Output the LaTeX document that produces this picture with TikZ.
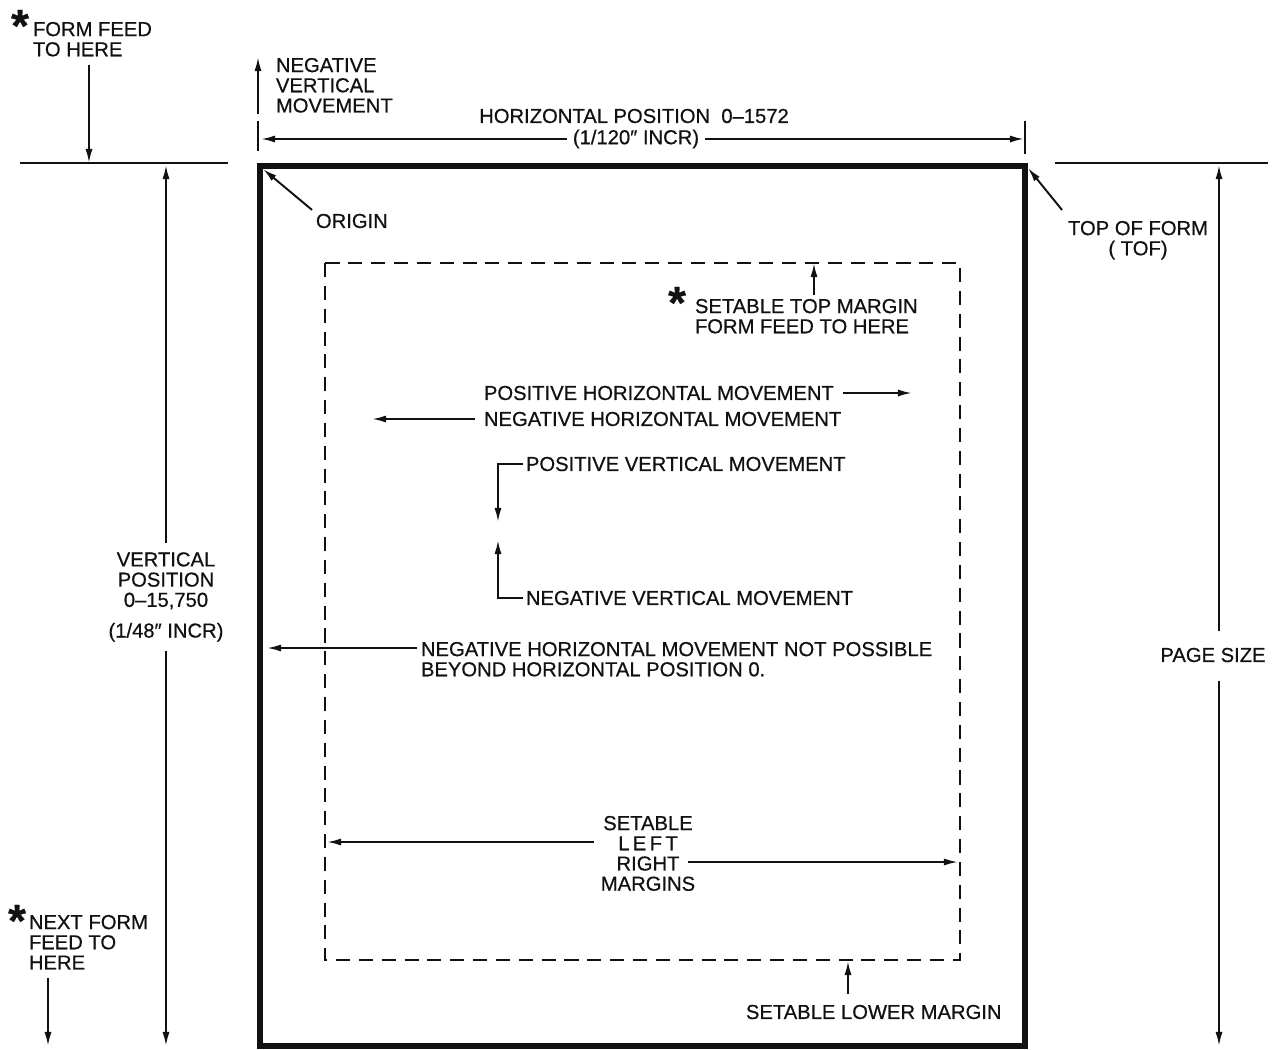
\documentclass[tikz,border=0pt]{standalone}
\usepackage{fontspec}
\setmainfont{Liberation Sans}[FakeBold=0.6]
\usetikzlibrary{arrows.meta}
\definecolor{ink}{HTML}{111111}

\begin{document}
\begin{tikzpicture}[x=0.02cm, y=-0.02cm, line width=1.1pt, color=ink,
  every node/.style={font=\fontsize{11.5}{11.5}\selectfont, inner sep=0pt, align=left},
  arr/.style={-{Latex[length=8pt,width=4pt]}},
  page edge/.style={line width=3pt, line join=miter},
  margin box/.style={line width=1.1pt, dash pattern=on 8pt off 5pt},
  starmark/.style={font=\fontsize{26}{26}\selectfont\bfseries, anchor=north}]
  \useasboundingbox (0,0) rectangle (1275,1049);

  % page and setable margins
  \coordinate (origin) at (260,166);
  \coordinate (tof) at (1025,166);
  \coordinate (pageEnd) at (1025,1046);
  \draw[page edge] (origin) rectangle (pageEnd);
  \draw[margin box] (325,263) rectangle (960,960);
  \draw (20,163) -- (228,163);
  \draw (1055,163) -- (1268,163);

  % form feed to here
  \coordinate (ffHere) at (89,163);
  \node[starmark] (ffStar) at (20,9) {*};
  \node[anchor=north west] (ffText) at (32,21) {FORM FEED\\TO HERE};
  \draw[arr] (ffText.south -| ffHere) ++(0,8) -- (ffHere);

  % vertical position
  \coordinate (vTop) at (166,165);
  \coordinate (vBot) at (166,1046);
  \node[align=center] (vpos) at (166,597) {VERTICAL\\POSITION\\0–15,750\\[6pt](1/48″ INCR)};
  \draw[arr] (vpos.north) ++(0,-8) -- (vTop);
  \draw[arr] (vpos.south) ++(0,8) -- (vBot);

  % negative vertical movement at origin
  \coordinate (nvmTip) at (258,57);
  \node[anchor=north west] (nvmTop) at (275,57) {NEGATIVE\\VERTICAL\\MOVEMENT};
  \draw[arr] (nvmTip |- nvmTop.south) -- (nvmTip);

  % horizontal position
  \coordinate (hLeft) at (261,139);
  \coordinate (hRight) at (1024,139);
  \draw (258,121) -- (258,151);
  \draw (1025,121) -- (1025,154);
  \node (hpos) at (634,116) {HORIZONTAL POSITION\ \ 0–1572};
  \node (hincr) at (636,139) {(1/120″ INCR)};
  \draw[arr] (hincr.west) ++(-5,0) -- (hLeft);
  \draw[arr] (hincr.east) ++(5,0) -- (hRight);

  % origin and top of form
  \node[anchor=west] (originLbl) at (315,221) {ORIGIN};
  \draw[arr] (originLbl.north west) ++(-3,-3) -- ([shift={(3,3)}]origin);
  \node[anchor=north, align=center] (tofLbl) at (1138,220) {TOP OF FORM\\( TOF)};
  \draw[arr] (tofLbl.north west) ++(-5,-10) -- ([shift={(3,2)}]tof);

  % page size
  \coordinate (psTop) at (1219,165);
  \coordinate (psBot) at (1219,1046);
  \node (psize) at (1213,655) {PAGE SIZE};
  \draw[arr] (psize.north -| psTop) ++(0,-16) -- (psTop);
  \draw[arr] (psize.south -| psTop) ++(0,18) -- (psBot);

  % setable top margin
  \coordinate (topMargin) at (814,263);
  \node[starmark] (tmStar) at (677,286) {*};
  \node[anchor=north west] (tmLbl) at (694,298) {SETABLE TOP MARGIN\\FORM FEED TO HERE};
  \draw[arr] (tmLbl.north -| topMargin) ++(0,-3) -- (topMargin);

  % horizontal movement
  \coordinate (phmTip) at (912,393);
  \coordinate (nhmTip) at (372,419);
  \node[anchor=west] (phm) at (483,393) {POSITIVE HORIZONTAL MOVEMENT};
  \node[anchor=west] (nhm) at (483,419) {NEGATIVE HORIZONTAL MOVEMENT};
  \draw[arr] (phm.east) ++(8,0) -- (phmTip);
  \draw[arr] (nhm.west) ++(-8,0) -- (nhmTip);

  % vertical movement
  \coordinate (pvmTip) at (498,522);
  \coordinate (nvmTip2) at (498,540);
  \node[anchor=west] (pvm) at (525,464) {POSITIVE VERTICAL MOVEMENT};
  \node[anchor=west] (nvm) at (525,598) {NEGATIVE VERTICAL MOVEMENT};
  \draw[arr] (pvm.west) ++(-2,0) -- (pvmTip |- pvm.west) -- (pvmTip);
  \draw[arr] (nvm.west) ++(-2,0) -- (nvmTip2 |- nvm.west) -- (nvmTip2);

  % horizontal position 0 limit
  \coordinate (zeroPos) at (267,648);
  \node[anchor=north west] (nhmStop) at (420,641) {NEGATIVE HORIZONTAL MOVEMENT NOT POSSIBLE\\BEYOND HORIZONTAL POSITION 0.};
  \draw[arr] (nhmStop.north west) ++(-3,7) -- (zeroPos);

  % left and right margins
  \coordinate (leftMargin) at (327,842);
  \coordinate (rightMargin) at (958,862);
  \node[anchor=north, align=center] (lrm) at (648,815) {SETABLE\\L\,E\,F\,T\\RIGHT\\MARGINS};
  \draw[arr] (lrm.west |- leftMargin) ++(-6,0) -- (leftMargin);
  \draw[arr] (lrm.east |- rightMargin) ++(-8,0) -- (rightMargin);

  % lower margin
  \coordinate (lowMargin) at (848,961);
  \node[anchor=west] (lowLbl) at (745,1012) {SETABLE LOWER MARGIN};
  \draw[arr] (lowLbl.north -| lowMargin) ++(0,-10) -- (lowMargin);

  % next form feed
  \coordinate (nfHere) at (48,1046);
  \node[starmark] (nfStar) at (17,904) {*};
  \node[anchor=north west] (nfText) at (28,914) {NEXT FORM\\FEED TO\\HERE};
  \draw[arr] (nfText.south -| nfHere) ++(0,8) -- (nfHere);
\end{tikzpicture}
\end{document}
